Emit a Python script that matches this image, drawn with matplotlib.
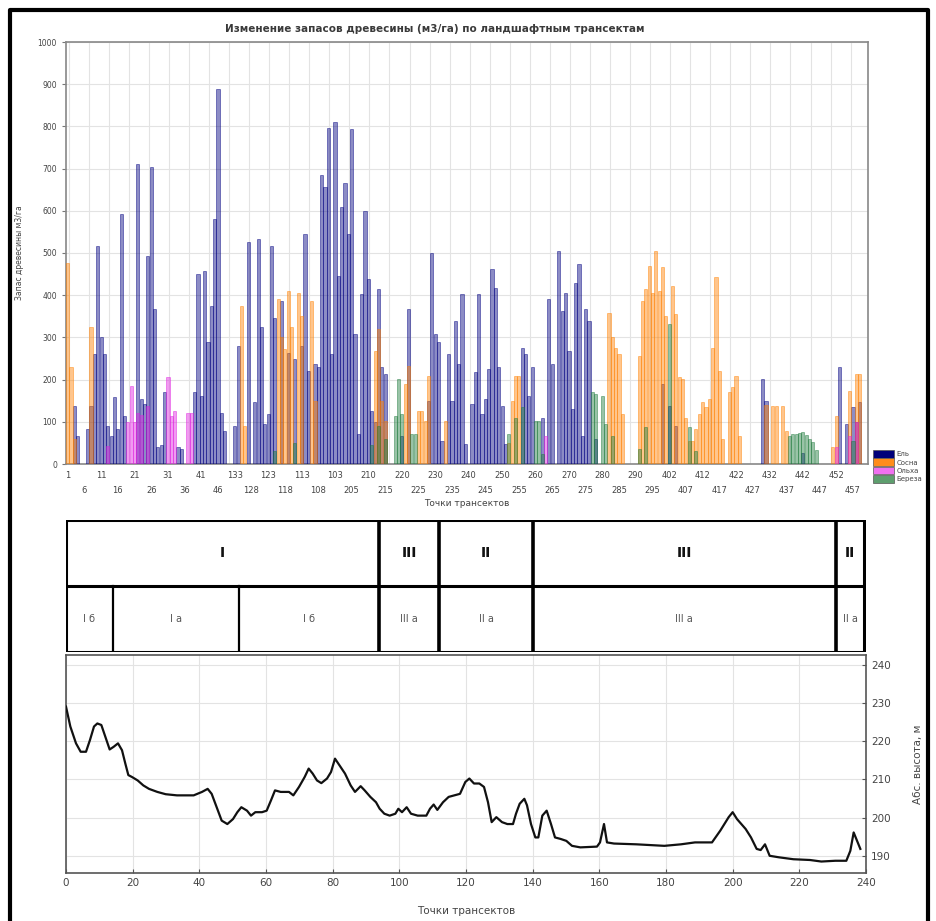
import numpy as np
import matplotlib
matplotlib.use("Agg")
import matplotlib.pyplot as plt
from matplotlib.patches import Patch
from matplotlib.lines import Line2D

plt.rcParams['font.family'] = ['DejaVu Sans']

# ---------------- data ----------------
title = "Изменение запасов древесины (м3/га) по ландшафтным трансектам"
species = ["Ель", "Сосна", "Ольха", "Береза"]
species_colors = ["#000080", "#FF8000", "#E020E0", "#1E7A3C"]

# transect point labels (category order as in the chart)
point_labels = (list(range(1, 51)) + list(range(133, 98, -1))
                + list(range(205, 300)) + list(range(402, 462)))

spruce = [
    0, 0, 138, 67, 0, 0, 83, 138, 260, 517, 300, 260, 91, 67, 158, 83, 592, 114, 0, 0,
    0, 712, 154, 142, 493, 704, 367, 40, 45, 170, 0, 0, 0, 40, 35, 0, 0, 0, 170, 450,
    162, 458, 288, 375, 580, 888, 120, 79, 0, 0, 91, 280, 0, 0, 525, 0, 146, 533, 324, 95,
    118, 517, 346, 0, 387, 0, 264, 0, 249, 0, 280, 545, 221, 0, 237, 229, 685, 657, 797, 260,
    811, 446, 608, 667, 545, 793, 308, 71, 402, 600, 438, 126, 100, 414, 229, 213, 0, 0, 0, 0,
    67, 0, 367, 0, 0, 0, 0, 0, 150, 501, 308, 288, 55, 0, 260, 150, 339, 237, 402, 47,
    0, 142, 217, 402, 118, 154, 225, 462, 418, 229, 138, 47, 0, 0, 0, 0, 276, 260, 162, 229,
    0, 0, 110, 0, 391, 237, 0, 505, 363, 406, 268, 130, 430, 474, 67, 367, 339, 0, 60, 0,
    0, 0, 0, 0, 0, 0, 0, 0, 0, 0, 0, 0, 0, 0, 0, 0, 0, 0, 190, 0,
    138, 0, 91, 0, 0, 0, 0, 0, 0, 0, 0, 0, 0, 0, 0, 0, 0, 0, 0, 0,
    0, 0, 0, 0, 0, 0, 0, 0, 201, 150, 0, 0, 0, 0, 0, 0, 0, 0, 0, 0,
    25, 0, 0, 0, 0, 0, 0, 0, 0, 0, 0, 229, 0, 95, 0, 134, 100, 146, 0, 0,
]
pine = [
    477, 229, 60, 0, 0, 0, 0, 324, 0, 0, 0, 0, 0, 0, 0, 0, 0, 0, 0, 0,
    0, 0, 0, 0, 0, 0, 0, 0, 0, 0, 0, 0, 0, 0, 0, 0, 0, 0, 0, 0,
    0, 0, 0, 0, 0, 0, 0, 0, 0, 0, 0, 0, 375, 91, 0, 0, 0, 0, 0, 0,
    0, 0, 0, 391, 300, 272, 410, 324, 0, 406, 351, 0, 0, 387, 150, 0, 0, 0, 0, 0,
    0, 0, 0, 0, 0, 0, 0, 0, 0, 0, 0, 0, 268, 320, 150, 103, 0, 0, 0, 0,
    0, 189, 233, 0, 0, 126, 126, 103, 209, 0, 0, 0, 0, 103, 0, 0, 0, 0, 0, 0,
    0, 0, 0, 0, 0, 0, 0, 0, 0, 0, 0, 0, 50, 150, 209, 209, 0, 0, 0, 0,
    0, 0, 0, 0, 0, 0, 0, 0, 0, 0, 0, 0, 0, 0, 0, 0, 0, 0, 0, 0,
    0, 0, 359, 300, 276, 260, 118, 0, 0, 0, 0, 256, 387, 414, 470, 406, 505, 410, 466, 351,
    0, 422, 355, 205, 201, 110, 55, 55, 83, 118, 146, 134, 154, 276, 442, 221, 60, 0, 170, 182,
    209, 67, 0, 0, 0, 0, 0, 0, 0, 140, 0, 138, 138, 0, 138, 79, 0, 0, 0, 0,
    0, 0, 0, 0, 0, 0, 0, 0, 0, 40, 114, 0, 0, 0, 174, 0, 213, 213, 0, 0,
]
alder = [
    0, 0, 0, 0, 0, 0, 0, 0, 0, 0, 0, 0, 43, 0, 0, 0, 0, 0, 99, 185,
    99, 120, 115, 0, 138, 0, 0, 0, 0, 0, 205, 114, 126, 0, 0, 0, 122, 122, 0, 0,
    0, 0, 0, 0, 0, 0, 0, 0, 0, 0, 0, 0, 0, 0, 0, 0, 0, 0, 0, 0,
    0, 0, 0, 0, 0, 0, 0, 0, 0, 0, 0, 0, 0, 0, 0, 0, 0, 0, 0, 0,
    0, 0, 0, 0, 0, 0, 0, 0, 0, 0, 0, 0, 0, 0, 0, 0, 0, 0, 0, 0,
    0, 0, 0, 0, 0, 0, 0, 0, 0, 0, 0, 0, 0, 0, 0, 0, 0, 0, 0, 0,
    0, 0, 0, 0, 0, 0, 0, 0, 0, 0, 0, 0, 0, 0, 0, 0, 0, 0, 0, 0,
    0, 0, 0, 67, 0, 0, 0, 0, 0, 0, 0, 0, 0, 0, 0, 0, 0, 0, 0, 0,
    0, 0, 0, 0, 0, 0, 0, 0, 0, 0, 0, 0, 0, 0, 0, 0, 0, 0, 0, 0,
    0, 0, 0, 0, 0, 0, 0, 0, 0, 0, 0, 0, 0, 0, 0, 0, 0, 0, 0, 0,
    0, 0, 0, 0, 0, 0, 0, 0, 0, 0, 0, 0, 0, 0, 0, 0, 0, 0, 0, 0,
    0, 0, 0, 0, 0, 0, 0, 0, 0, 0, 40, 0, 0, 0, 67, 0, 99, 0, 0, 0,
]
birch = [
    0, 0, 0, 0, 0, 0, 0, 0, 0, 0, 0, 0, 0, 0, 0, 0, 0, 0, 0, 0,
    0, 0, 0, 0, 0, 0, 0, 0, 0, 0, 0, 0, 0, 0, 0, 0, 0, 0, 0, 0,
    0, 0, 0, 0, 0, 0, 0, 0, 0, 0, 0, 0, 0, 0, 0, 0, 0, 0, 0, 0,
    0, 0, 30, 0, 0, 0, 0, 0, 50, 0, 0, 0, 0, 0, 0, 0, 0, 0, 0, 0,
    0, 0, 0, 0, 0, 0, 0, 0, 0, 0, 0, 45, 0, 90, 0, 60, 0, 0, 114, 201,
    118, 0, 0, 71, 71, 0, 0, 0, 0, 0, 0, 0, 0, 0, 0, 0, 0, 0, 0, 0,
    0, 0, 0, 0, 0, 0, 0, 0, 0, 0, 0, 0, 71, 0, 110, 0, 134, 0, 0, 0,
    103, 103, 24, 0, 0, 0, 0, 0, 0, 0, 0, 0, 0, 0, 0, 0, 0, 170, 166, 0,
    162, 95, 0, 67, 0, 0, 0, 0, 0, 0, 0, 35, 0, 87, 0, 0, 0, 0, 0, 0,
    331, 0, 0, 0, 0, 0, 87, 0, 30, 0, 0, 0, 0, 0, 0, 0, 0, 0, 0, 0,
    0, 0, 0, 0, 0, 0, 0, 0, 0, 0, 0, 0, 0, 0, 0, 0, 67, 71, 70, 73,
    75, 69, 59, 51, 32, 0, 0, 0, 0, 0, 0, 0, 0, 0, 0, 55, 0, 0, 0, 0,
]
stock_series = [spruce, pine, alder, birch]

# landscape zones (in transect point units of the profile)
zone_top_bounds = [0, 94, 112, 140, 231, 239.5]
zone_top_labels = ["I", "III", "II", "III", "II"]
zone_sub_bounds = [0, 14, 52, 94, 112, 140, 231, 239.5]
zone_sub_labels = ["I б", "I а", "I б", "III а", "II а", "III а", "II а"]

# elevation profile
elev_x = [0, 1.3, 3, 4.4, 6, 7.2, 8.4, 9.4, 10.6, 11.8, 13.1, 14.3, 15.6, 16.8, 17.8, 18.7,
          19.8, 21.5, 23.2, 24.9, 27.4, 29.9, 33.3, 38.3, 40.8, 42.5, 43.7, 45, 46.7, 48.4,
          50.1, 51.4, 52.6, 54.3, 55.5, 56.8, 58.8, 60.2, 61.5, 62.7, 64.4, 66.9, 68.2, 69.9,
          71.6, 72.8, 74, 75.3, 76.6, 78.3, 79.5, 80.7, 82, 83.7, 85.4, 86.7, 88.4, 89.6,
          91.3, 93, 94.1, 95.5, 97.1, 98.8, 99.7, 100.8, 102.2, 103.5, 105.5, 108.1, 109.2,
          110.3, 111.4, 113.1, 114.8, 116.5, 118.2, 119.8, 121, 122.4, 124, 125.4, 126.6,
          127.7, 129.1, 130.8, 132.4, 134.1, 135, 136.1, 137.5, 138.3, 139.5, 140.8, 141.7,
          142.9, 144.2, 145.5, 146.7, 148.4, 150.1, 151.8, 154.3, 159.3, 160.2, 161.4, 162.3,
          164.4, 171.1, 179.5, 184.5, 188.7, 193.8, 196.3, 198.8, 200, 201.3, 203.9, 205.5,
          207.2, 208.4, 209.7, 211.1, 213.9, 218.2, 223.2, 226.6, 230.8, 234.1, 235.3, 236.3,
          237.5, 238.3]
elev_y = [229.0, 223.8, 219.4, 217.2, 217.2, 220.3, 223.8, 224.6, 224.2, 221.1, 217.8, 218.5,
          219.4, 217.6, 214.1, 211.1, 210.6, 209.7, 208.4, 207.5, 206.7, 206.1, 205.8, 205.8,
          206.7, 207.5, 206.2, 203.2, 199.2, 198.3, 199.6, 201.4, 202.7, 201.8, 200.5, 201.4,
          201.4, 201.8, 204.5, 207.1, 206.7, 206.7, 205.8, 208.0, 210.6, 212.8, 211.5, 209.7,
          209.0, 210.2, 211.9, 215.4, 213.7, 211.5, 208.4, 206.7, 208.2, 207.1, 205.4, 204.0,
          202.3, 201.0, 200.5, 201.0, 202.3, 201.4, 202.7, 201.0, 200.5, 200.5, 202.3, 203.4,
          202.0, 204.0, 205.4, 205.8, 206.2, 209.3, 210.2, 208.9, 208.9, 208.0, 204.0, 198.8,
          200.1, 198.8, 198.3, 198.3, 201.0, 203.6, 204.9, 203.2, 198.3, 194.8, 194.8, 200.5,
          201.8, 198.3, 194.8, 194.4, 193.9, 192.6, 192.2, 192.4, 193.5, 198.3, 193.5, 193.2,
          193.0, 192.6, 193.0, 193.5, 193.5, 196.6, 200.1, 201.4, 199.6, 197.0, 194.8, 191.8,
          191.5, 193.0, 190.0, 189.6, 189.1, 188.9, 188.5, 188.7, 188.7, 191.3, 196.1, 193.5,
          191.8]

# ---------------- figure ----------------
W, H = 936, 921
fig = plt.figure(figsize=(W / 100, H / 100), dpi=100)
fig.patch.set_facecolor("white")

def box(l, t, r, b):
    return [l / W, 1 - b / H, (r - l) / W, (b - t) / H]

grid_c = "#e3e3e3"
text_c = "#444444"

# ---- bar chart ----
ax1 = fig.add_axes(box(66, 42, 868, 464))
n = len(point_labels)
idx = np.arange(n)
for vals, col in zip(stock_series, species_colors):
    ax1.bar(idx, vals, width=0.95, color=col, alpha=0.45, edgecolor=col,
            linewidth=0.7, zorder=3)
ax1.set_xlim(-0.5, n - 0.5)
ax1.set_ylim(0, 1000)
ax1.set_yticks(np.arange(0, 1001, 100))
ax1.tick_params(axis="y", labelsize=5.5, labelcolor=text_c, length=3, color="#777777")
tick_pos = idx[::5]
tick_lab = [str(point_labels[i]) if k % 2 == 0 else "\n" + str(point_labels[i])
            for k, i in enumerate(tick_pos)]
ax1.set_xticks(tick_pos)
ax1.set_xticklabels(tick_lab, fontsize=6, color=text_c, linespacing=1.9)
ax1.tick_params(axis="x", length=0, pad=5)
ax1.set_xticks(np.arange(0.3, n, 6), minor=True)
ax1.tick_params(axis="x", which="minor", length=0)
ax1.grid(True, axis="y", color=grid_c, lw=0.8, zorder=0)
ax1.grid(True, axis="x", which="minor", color=grid_c, lw=0.8, zorder=0)
for s in ax1.spines.values():
    s.set_color("#888888")
    s.set_linewidth(1.2)
fig.text(435 / W, 1 - 29 / H, title, fontsize=7.5, fontweight="bold", color="#3a3a3a",
         ha="center", va="center")
ax1.set_ylabel("Запас древесины м3/га", fontsize=5.5, color=text_c, labelpad=10)
ax1.set_xlabel("Точки трансектов", fontsize=6.5, color=text_c, labelpad=3)

handles = [Patch(facecolor=c, edgecolor="#555555", linewidth=0.5) for c in
           ["#00007A", "#FF8C1A", "#F070F0", "#5E9E6E"]]
fig.legend(handles, species, loc="upper left", bbox_to_anchor=(873 / W, 1 - 450 / H),
           fontsize=5, frameon=False, handlelength=3.0, handleheight=1.3,
           labelspacing=0.12, handletextpad=0.4, labelcolor=text_c, borderaxespad=0,
           borderpad=0)

# ---- landscape zones band ----
ax2 = fig.add_axes(box(66, 520, 866, 652))
ax2.set_xlim(0, 240)
ax2.set_ylim(0, 2)
ax2.axis("off")
xl, xr = zone_sub_bounds[0], zone_sub_bounds[-1]
for yy in (0, 1, 2):
    ax2.plot([xl, xr], [yy, yy], color="black", lw=2.2, solid_capstyle="butt")
for b in zone_top_bounds:
    ax2.plot([b, b], [0, 2], color="black", lw=2.6 if b not in (xl, xr) else 2.2)
for b in zone_sub_bounds:
    if b not in zone_top_bounds:
        ax2.plot([b, b], [0, 1], color="black", lw=1.6)
for k, lab in enumerate(zone_top_labels):
    ax2.text((zone_top_bounds[k] + zone_top_bounds[k + 1]) / 2, 1.5, lab, ha="center",
             va="center", fontsize=10, fontweight="bold", color="#111111")
for k, lab in enumerate(zone_sub_labels):
    ax2.text((zone_sub_bounds[k] + zone_sub_bounds[k + 1]) / 2, 0.5, lab, ha="center",
             va="center", fontsize=7, color="#555555")

# ---- elevation profile ----
ax3 = fig.add_axes(box(66, 655, 866, 873))
ax3.plot(elev_x, elev_y, color="#111111", lw=1.6, zorder=3)
ax3.set_xlim(0, 240)
ax3.set_ylim(185.5, 242.5)
ax3.set_xticks(np.arange(0, 241, 20))
ax3.set_yticks(np.arange(190, 241, 10))
ax3.yaxis.tick_right()
ax3.yaxis.set_label_position("right")
ax3.tick_params(labelsize=7.5, labelcolor=text_c, length=3, direction="in", color="#555555")
ax3.grid(True, color=grid_c, lw=0.8, zorder=0)
for s in ax3.spines.values():
    s.set_color("#555555")
    s.set_linewidth(1.2)
ax3.set_xlabel("Точки трансектов", fontsize=7.5, color=text_c, labelpad=13)
ax3.set_ylabel("Абс. высота, м", fontsize=7.5, color=text_c, labelpad=16, rotation=90)

# outer frame (top, left, right)
frame_x = [10 / W, 10 / W, 928 / W, 928 / W]
frame_y = [0, 1 - 10 / H, 1 - 10 / H, 0]
fig.add_artist(Line2D(frame_x, frame_y, transform=fig.transFigure, color="black", lw=3))

fig.savefig("out.png", dpi=100)
